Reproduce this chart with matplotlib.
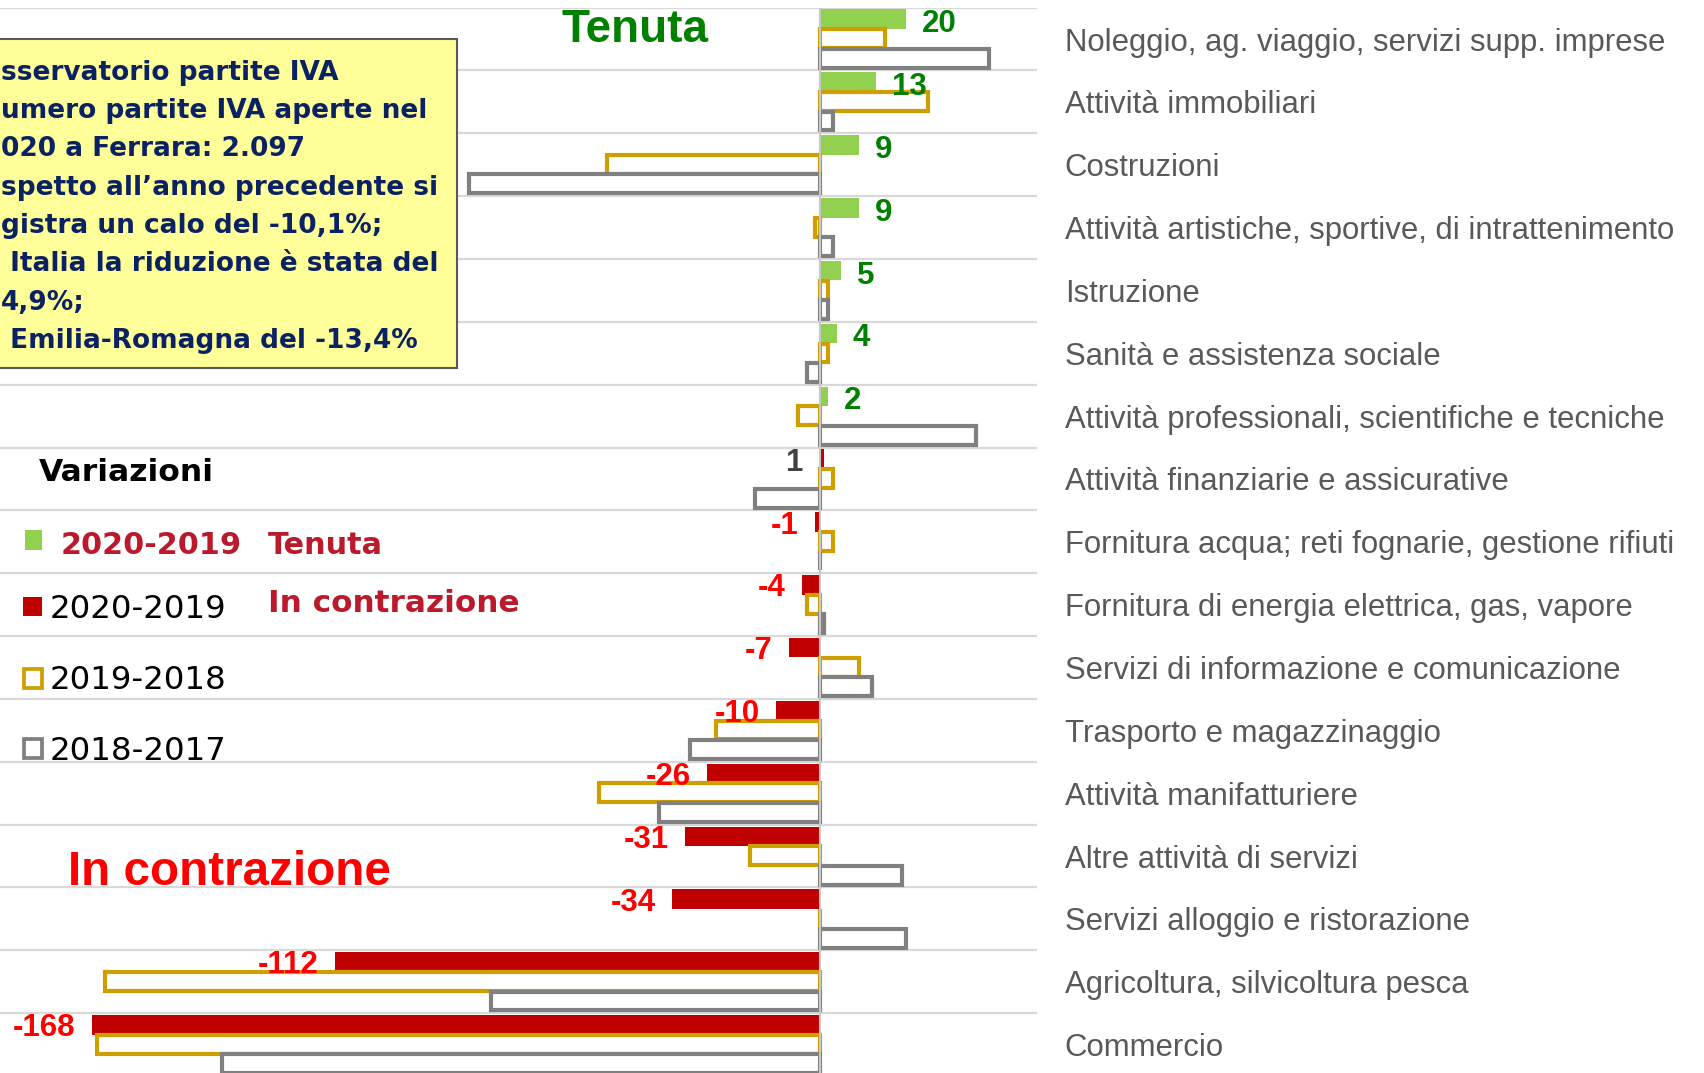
import matplotlib
matplotlib.use("Agg")
import matplotlib.pyplot as plt
import matplotlib.patches as patches
import numpy as np

# categorie (dall'alto in basso)
categories = [
    "Noleggio, ag. viaggio, servizi supp. imprese",
    "Attività immobiliari",
    "Costruzioni",
    "Attività artistiche, sportive, di intrattenimento",
    "Istruzione",
    "Sanità e assistenza sociale",
    "Attività professionali, scientifiche e tecniche",
    "Attività finanziarie e assicurative",
    "Fornitura acqua; reti fognarie, gestione rifiuti",
    "Fornitura di energia elettrica, gas, vapore",
    "Servizi di informazione e comunicazione",
    "Trasporto e magazzinaggio",
    "Attività manifatturiere",
    "Altre attività di servizi",
    "Servizi alloggio e ristorazione",
    "Agricoltura, silvicoltura pesca",
    "Commercio",
]
var_2020_2019 = [20, 13, 9, 9, 5, 4, 2, 1, -1, -4, -7, -10, -26, -31, -34, -112, -168]
var_2019_2018 = [15, 25, -49, -1, 2, 2, -5, 3, 3, -3, 9, -24, -51, -16, 0, -165, -167]
var_2018_2017 = [39, 3, -81, 3, 2, -3, 36, -15, 0, 1, 12, -30, -37, 19, 20, -76, -138]
n_tenuta = 7  # prime righe: settori "in tenuta"

# testo del riquadro, come si vede (tagliato a sinistra nell'originale)
box_lines = [
    "sservatorio partite IVA",
    "umero partite IVA aperte nel",
    "020 a Ferrara: 2.097",
    "spetto all\u2019anno precedente si",
    "gistra un calo del -10,1%;",
    " Italia la riduzione è stata del",
    "4,9%;",
    " Emilia-Romagna del -13,4%",
]
legend_title = "Variazioni"
legend_labels = ["2020-2019", "2020-2019", "2019-2018", "2018-2017"]

GREEN = "#92D050"
RED = "#C00000"
GOLD = "#CF9E00"
GREY = "#808080"
GRID = "#D9D9D9"
CRIMSON = "#BA1A2C"
NAVY = "#0A2162"

W, H = 1704, 1073
fig = plt.figure(figsize=(W / 100, H / 100), dpi=100)


def fx(px):
    return px / W


def fy(py):
    return 1 - py / H


row_h = 62.85
top = 7.6
ax = fig.add_axes([0, 0, fx(1037), (H - top) / H])
ax.set_xlim(-189.3, 50.2)
ax.set_ylim((H - top) / row_h, 0)

rows = np.arange(len(categories))
for i in range(len(categories)):
    ax.axhline(i, color=GRID, lw=1.6, zorder=0)

colors_2020 = [GREEN if i < n_tenuta else RED for i in rows]
ax.barh(rows + 0.185, var_2020_2019, height=0.31, color=colors_2020, zorder=2)
ax.barh(rows + 0.495, var_2019_2018, height=0.30, facecolor="white",
        edgecolor=GOLD, linewidth=3.0, zorder=2)
ax.barh(rows + 0.805, var_2018_2017, height=0.30, facecolor="white",
        edgecolor=GREY, linewidth=3.0, zorder=2)
ax.axvline(0, color="#C8C8C8", lw=1.5, zorder=3)

for i, v in enumerate(var_2020_2019):
    y = i + 0.185
    if i < n_tenuta:
        ax.annotate(str(v), (v, y), xytext=(11.5, -1), textcoords="offset points",
                    ha="left", va="center_baseline", color="#008000",
                    fontsize=22.5, fontweight="bold", family="Liberation Sans", zorder=4)
    else:
        c = "#FF0000" if v < 0 else "#404040"
        ax.annotate(str(v), (min(v, 0), y), xytext=(-12, 0), textcoords="offset points",
                    ha="right", va="center_baseline", color=c,
                    fontsize=22.5, fontweight="bold", family="Liberation Sans", zorder=4)

ax.yaxis.tick_right()
ax.set_yticks(rows + 0.5)
ax.set_yticklabels(categories, fontsize=22.4, color="#595959", family="Liberation Sans")
ax.tick_params(axis="y", length=0, pad=20)
ax.set_xticks([])
for s in ax.spines.values():
    s.set_visible(False)

# riquadro giallo
box = patches.Rectangle((fx(-5), fy(368)), fx(462), (368 - 39) / H,
                        transform=fig.transFigure, facecolor="#FFFF99",
                        edgecolor="#595959", lw=1.5, zorder=3)
fig.add_artist(box)
for k, line in enumerate(box_lines):
    fig.text(fx(1), fy(80 + k * 38.25), line, ha="left", va="baseline",
             fontsize=19, fontweight="bold", color=NAVY, family="DejaVu Sans", zorder=4)

# titoli
fig.text(fx(561), fy(42), "Tenuta", ha="left", va="baseline", fontsize=33,
         fontweight="bold", color="#008000", family="Liberation Sans")
fig.text(fx(68), fy(885), "In contrazione", ha="left", va="baseline", fontsize=34.3,
         fontweight="bold", color="#FF0000", family="Liberation Sans")

# legenda
fig.text(fx(39), fy(481), legend_title, ha="left", va="baseline", fontsize=22.6,
         fontweight="bold", color="black", family="DejaVu Sans")

fig.add_artist(patches.Rectangle((fx(25), fy(550)), fx(17), 20 / H,
                                 transform=fig.transFigure, facecolor=GREEN, lw=0))
fig.add_artist(patches.Rectangle((fx(23), fy(616)), fx(19), 19 / H,
                                 transform=fig.transFigure, facecolor=RED, lw=0))
fig.add_artist(patches.Rectangle((fx(23.5), fy(688)), fx(18.5), 19.5 / H,
                                 transform=fig.transFigure, facecolor="white",
                                 edgecolor=GOLD, lw=2.7))
fig.add_artist(patches.Rectangle((fx(23.5), fy(758)), fx(18.5), 19.5 / H,
                                 transform=fig.transFigure, facecolor="white",
                                 edgecolor=GREY, lw=2.7))

fig.text(fx(61), fy(554), legend_labels[0], ha="left", va="baseline", fontsize=21.8,
         fontweight="bold", color=CRIMSON, family="DejaVu Sans")
fig.text(fx(268), fy(554), "Tenuta", ha="left", va="baseline", fontsize=21.8,
         fontweight="bold", color=CRIMSON, family="DejaVu Sans")
fig.text(fx(50), fy(618), legend_labels[1], ha="left", va="baseline", fontsize=23.3,
         color="black", family="DejaVu Sans")
fig.text(fx(268), fy(612), "In contrazione", ha="left", va="baseline", fontsize=22.4,
         fontweight="bold", color=CRIMSON, family="DejaVu Sans")
fig.text(fx(50), fy(689), legend_labels[2], ha="left", va="baseline", fontsize=23.3,
         color="black", family="DejaVu Sans")
fig.text(fx(50), fy(760), legend_labels[3], ha="left", va="baseline", fontsize=23.3,
         color="black", family="DejaVu Sans")

fig.savefig("out.png", dpi=100, facecolor="white")
